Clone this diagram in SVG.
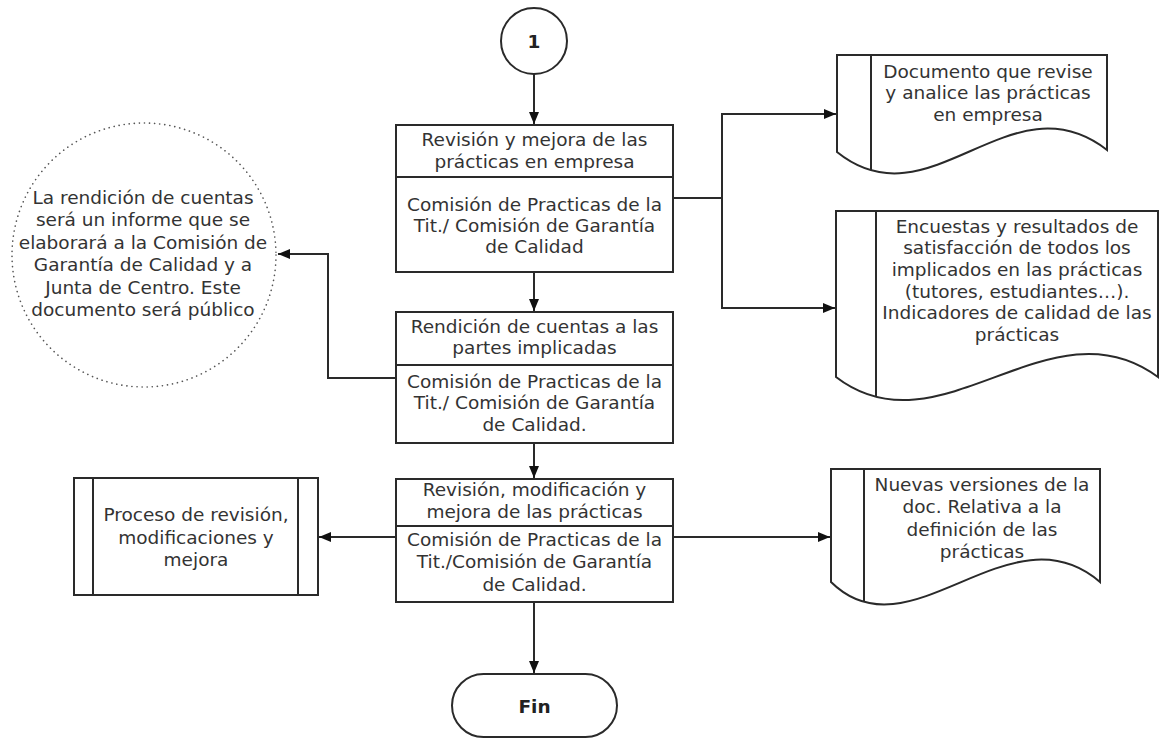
<svg xmlns="http://www.w3.org/2000/svg" width="1163" height="740" viewBox="0 0 1163 740">
<style>
.shape{fill:#fff;stroke:#2a2a2a;stroke-width:2}
.ln{fill:none;stroke:#2a2a2a;stroke-width:2}
.conn{fill:none;stroke:#2a2a2a;stroke-width:2}
text{font-family:"DejaVu Sans",Verdana,sans-serif;font-size:18.5px;fill:#333;text-anchor:middle}
.b{font-weight:bold;fill:#222}
.dot{fill:none;stroke:#555;stroke-width:1.6;stroke-dasharray:0.1 5;stroke-linecap:round}
</style>
<defs>
<marker id="ah" markerWidth="12" markerHeight="10" refX="12" refY="5" orient="auto" markerUnits="userSpaceOnUse">
<path d="M0,0 L12,5 L0,10 Z" fill="#111"/>
</marker>
</defs>
<rect width="1163" height="740" fill="#fff"/>

<g id="connectors">
<path class="conn" d="M534,74 V124" marker-end="url(#ah)"/>
<path class="conn" d="M534,272 V311" marker-end="url(#ah)"/>
<path class="conn" d="M534,443 V478" marker-end="url(#ah)"/>
<path class="conn" d="M534,602 V673" marker-end="url(#ah)"/>
<path class="conn" d="M673,198 H722 V114 H836" marker-end="url(#ah)"/>
<path class="conn" d="M722,198 V308 H835" marker-end="url(#ah)"/>
<path class="conn" d="M396,378 H328 V254 H278" marker-end="url(#ah)"/>
<path class="conn" d="M673,537 H830" marker-end="url(#ah)"/>
<path class="conn" d="M396,537 H319" marker-end="url(#ah)"/>
</g>

<g id="start">
<circle class="shape" cx="534" cy="41" r="33"/>
<text class="b" x="534" y="48">1</text>
</g>

<g id="box1">
<rect class="shape" x="396" y="125" width="277" height="147"/>
<line class="ln" x1="396" y1="177" x2="673" y2="177"/>
<text x="534.5" y="146">Revisión y mejora de las</text>
<text x="534.5" y="168">prácticas en empresa</text>
<text x="534.5" y="211">Comisión de Practicas de la</text>
<text x="534.5" y="232">Tit./ Comisión de Garantía</text>
<text x="534.5" y="253">de Calidad</text>
</g>

<g id="box2">
<rect class="shape" x="396" y="312" width="277" height="131"/>
<line class="ln" x1="396" y1="365" x2="673" y2="365"/>
<text x="534.5" y="333">Rendición de cuentas a las</text>
<text x="534.5" y="354">partes implicadas</text>
<text x="534.5" y="388">Comisión de Practicas de la</text>
<text x="534.5" y="409">Tit./ Comisión de Garantía</text>
<text x="534.5" y="431">de Calidad.</text>
</g>

<g id="box3">
<rect class="shape" x="396" y="479" width="277" height="123"/>
<line class="ln" x1="396" y1="526" x2="673" y2="526"/>
<text x="534.5" y="496">Revisión, modificación y</text>
<text x="534.5" y="518">mejora de las prácticas</text>
<text x="534.5" y="546">Comisión de Practicas de la</text>
<text x="534.5" y="568">Tit./Comisión de Garantía</text>
<text x="534.5" y="591">de Calidad.</text>
</g>

<g id="end">
<rect class="shape" x="452" y="674" width="165" height="63" rx="31.5" ry="31.5"/>
<text class="b" x="534.5" y="713">Fin</text>
</g>

<g id="note">
<circle class="dot" cx="144" cy="255" r="132"/>
<text x="143" y="204">La rendición de cuentas</text>
<text x="143" y="226">será un informe que se</text>
<text x="143" y="249">elaborará a la Comisión de</text>
<text x="143" y="271">Garantía de Calidad y a</text>
<text x="143" y="294">Junta de Centro. Este</text>
<text x="143" y="316">documento será público</text>
</g>

<g id="doc1">
<path class="shape" d="M837,55 H1107 V150 C1010,75 930,227 837,152 Z"/>
<line class="ln" x1="871" y1="55" x2="871" y2="170"/>
<text x="988" y="78">Documento que revise</text>
<text x="988" y="99">y analice las prácticas</text>
<text x="988" y="121">en empresa</text>
</g>

<g id="doc2">
<path class="shape" d="M836,211 H1158 V377 C1050,297 940,457 836,377 Z"/>
<line class="ln" x1="876" y1="211" x2="876" y2="396"/>
<text x="1017" y="233">Encuestas y resultados  de</text>
<text x="1017" y="254">satisfacción de todos los</text>
<text x="1017" y="276">implicados en las prácticas</text>
<text x="1017" y="298">(tutores, estudiantes…).</text>
<text x="1017" y="319">Indicadores de calidad de las</text>
<text x="1017" y="341">prácticas</text>
</g>

<g id="doc3">
<path class="shape" d="M831,469 H1100 V582 C1010,504 910,660 831,582 Z"/>
<line class="ln" x1="864" y1="469" x2="864" y2="602"/>
<text x="982" y="491">Nuevas versiones de la</text>
<text x="982" y="513">doc. Relativa a la</text>
<text x="982" y="536">definición de las</text>
<text x="982" y="558">prácticas</text>
</g>

<g id="process">
<rect class="shape" x="74" y="478" width="244" height="117"/>
<line class="ln" x1="93" y1="478" x2="93" y2="595"/>
<line class="ln" x1="298" y1="478" x2="298" y2="595"/>
<text x="196" y="521">Proceso de revisión,</text>
<text x="196" y="544">modificaciones y</text>
<text x="196" y="566">mejora</text>
</g>
</svg>
